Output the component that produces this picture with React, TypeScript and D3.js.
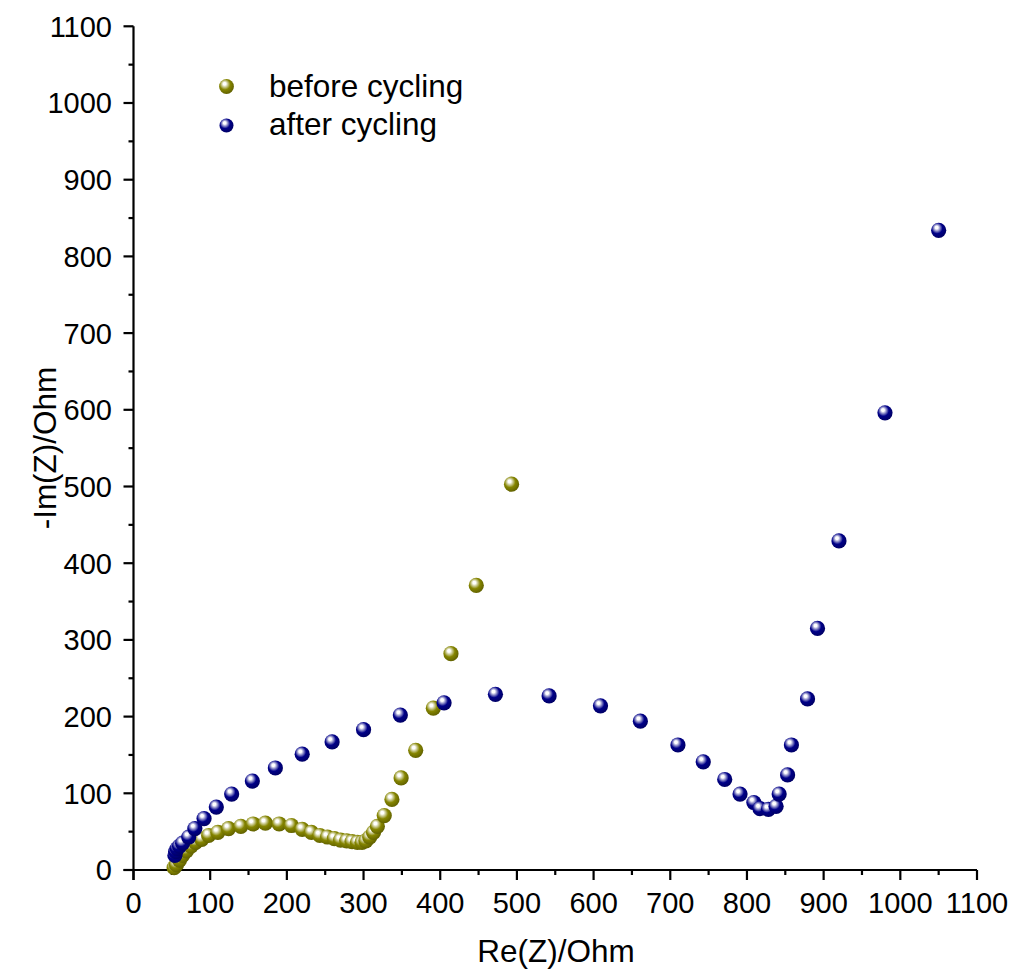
import React from "react";
import * as d3 from "d3";

const beforeX = [53, 56, 60, 64, 69, 75, 81, 89, 98, 110, 124, 140, 156, 172, 190, 206, 220, 232, 243, 253, 262, 270, 278, 285, 292, 298, 303, 308, 313, 318, 327, 337, 349, 368, 391, 414, 447, 493];
const beforeY = [3, 7, 13, 19, 25, 31, 36, 40, 45, 49, 54, 57, 60, 61, 60, 58, 53, 49, 45, 43, 41, 39, 38, 37, 36, 36, 38, 43, 49, 57, 71, 92, 120, 156, 211, 282, 371, 503];

const afterX = [54, 55, 57, 60, 64, 72, 80, 92, 108, 128, 155, 185, 220, 259, 300, 348, 405, 472, 542, 609, 661, 710, 743, 771, 791, 809, 817, 828, 838, 842, 853, 858, 879, 892, 920, 980, 1050];
const afterY = [19, 24, 28, 31, 35, 43, 54, 67, 82, 99, 116, 133, 151, 167, 183, 202, 218, 229, 227, 214, 194, 163, 141, 118, 99, 88, 80, 79, 83, 99, 124, 163, 223, 315, 429, 596, 834];

const xTicks = [0, 100, 200, 300, 400, 500, 600, 700, 800, 900, 1000, 1100];
const yTicks = [0, 100, 200, 300, 400, 500, 600, 700, 800, 900, 1000, 1100];
const minorTicks = [50, 150, 250, 350, 450, 550, 650, 750, 850, 950, 1050];

const seriesNames = ["before cycling", "after cycling"];
const seriesColors = ["#858500", "#000088"];
const xTitle = "Re(Z)/Ohm";
const yTitle = "-Im(Z)/Ohm";

export default function App() {
  const W = 1013, H = 971;
  const x = d3.scaleLinear().domain([0, 1100]).range([133.5, 977]);
  const y = d3.scaleLinear().domain([0, 1100]).range([870, 26.3]);
  const font = "'Liberation Sans', Arial, sans-serif";
  const r = 7.6;
  const before = beforeX.map((v, i) => [v, beforeY[i]]);
  const after = afterX.map((v, i) => [v, afterY[i]]);
  const series = [before, after];

  return (
    <svg width={W} height={H} style={{ position: "absolute", left: 0, top: 0, background: "#fff" }} fontFamily={font}>
      <defs>
        {seriesColors.map((c, i) => {
          const dark = d3.color(c)!.darker(0.9).formatHex();
          const light = d3.interpolateRgb(c, "#ffffff")(0.6);
          return (
            <radialGradient key={i} id={`g${i}`} cx="0.42" cy="0.4" r="0.62" fx="0.36" fy="0.3">
              <stop offset="0%" stopColor="#ffffff" />
              <stop offset="15%" stopColor="#ffffff" />
              <stop offset="32%" stopColor={light} />
              <stop offset="58%" stopColor={c} />
              <stop offset="100%" stopColor={dark} />
            </radialGradient>
          );
        })}
      </defs>

      {/* axes */}
      <g stroke="#000" strokeWidth={2.2} fill="none">
        <line x1={x(0)} x2={x(0)} y1={y(0) + 10} y2={y(1100)} />
        <line x1={x(0) - 10} x2={x(1100)} y1={y(0)} y2={y(0)} />
        {xTicks.map((t) => (
          <line key={"xt" + t} x1={x(t)} x2={x(t)} y1={y(0)} y2={y(0) + 10} />
        ))}
        {minorTicks.map((t) => (
          <line key={"xm" + t} x1={x(t)} x2={x(t)} y1={y(0)} y2={y(0) + 5} />
        ))}
        {yTicks.map((t) => (
          <line key={"yt" + t} x1={x(0) - 10} x2={x(0)} y1={y(t)} y2={y(t)} />
        ))}
        {minorTicks.map((t) => (
          <line key={"ym" + t} x1={x(0) - 5} x2={x(0)} y1={y(t)} y2={y(t)} />
        ))}
      </g>

      <g fontSize={29} fill="#000">
        {xTicks.map((t) => (
          <text key={"xl" + t} x={x(t)} y={913} textAnchor="middle">{t}</text>
        ))}
        {yTicks.map((t) => (
          <text key={"yl" + t} x={112} y={y(t) + 10.4} textAnchor="end">{t}</text>
        ))}
      </g>

      <text x={556} y={962} fontSize={31.5} textAnchor="middle" fill="#000">{xTitle}</text>
      <text transform={`translate(56,448) rotate(-90)`} fontSize={31.5} textAnchor="middle" fill="#000">{yTitle}</text>

      {series.map((pts, si) => (
        <g key={si}>
          {pts.map((p, i) => (
            <circle key={i} cx={x(p[0])} cy={y(p[1])} r={r} fill={`url(#g${si})`} />
          ))}
        </g>
      ))}

      {/* legend */}
      {seriesNames.map((n, i) => (
        <g key={n}>
          <circle cx={226.5} cy={86.5 + i * 39} r={i === 0 ? 7.4 : 7} fill={`url(#g${i})`} />
          <text x={269} y={96.5 + i * 38.5} fontSize={31.5} fill="#000">{n}</text>
        </g>
      ))}
    </svg>
  );
}
